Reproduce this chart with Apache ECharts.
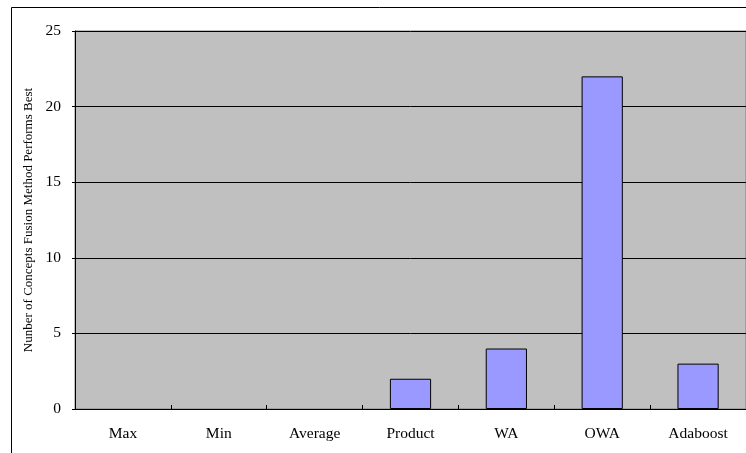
<!DOCTYPE html>
<html>
<head>
<meta charset="utf-8">
<script src="https://cdn.jsdelivr.net/npm/echarts@6/dist/echarts.min.js"></script>
<style>
  html, body { margin: 0; padding: 0; background: #fff; }
  #chart { width: 746px; height: 453px; }
</style>
</head>
<body>
<div id="chart"></div>
<script>
  const methods = ['Max', 'Min', 'Average', 'Product', 'WA', 'OWA', 'Adaboost']
  const bestCounts = [0, 0, 0, 2, 4, 22, 3]
  const yTicks = [0, 5, 10, 15, 20, 25]

  const chart = echarts.init(document.getElementById('chart'), null, { renderer: 'canvas' })
  const font = '"Liberation Serif", "Times New Roman", serif'

  // zero-height bars are not drawn in the original, so drop their outline
  const barData = bestCounts.map(v => ({
    value: v,
    itemStyle: v === 0 ? { borderWidth: 0 } : undefined
  }))

  chart.setOption({
    animation: false,
    textStyle: { fontFamily: font },
    graphic: [{
      type: 'rect',
      shape: { x: 11.5, y: 7.5, width: 760, height: 460 },
      style: { fill: 'none', stroke: '#000', lineWidth: 1 },
      silent: true
    }],
    grid: {
      left: 75,
      top: 31,
      right: -3,
      bottom: 44,
      show: true,
      backgroundColor: '#c0c0c0',
      borderColor: '#808080',
      borderWidth: 1
    },
    xAxis: {
      type: 'category',
      data: methods,
      axisLine: { lineStyle: { color: '#000', width: 1 } },
      axisTick: { show: true, inside: true, length: 4, lineStyle: { color: '#000' } },
      axisLabel: { color: '#000', fontSize: 15.5, fontFamily: font, margin: 17 }
    },
    yAxis: {
      type: 'value',
      min: yTicks[0],
      max: yTicks[yTicks.length - 1],
      interval: 5,
      name: 'Nunber of Concepts Fusion Method Performs Best',
      nameLocation: 'middle',
      nameGap: 35,
      nameTextStyle: { color: '#000', fontSize: 13, fontFamily: font },
      axisLine: { show: true, lineStyle: { color: '#000', width: 1 } },
      axisTick: { show: true, length: 3, lineStyle: { color: '#000' } },
      axisLabel: { color: '#000', fontSize: 15.5, fontFamily: font, margin: 14 },
      splitLine: { show: true, lineStyle: { color: '#000', width: 1 } }
    },
    series: [{
      type: 'bar',
      data: barData,
      barWidth: '43%',
      itemStyle: { color: '#9999ff', borderColor: '#000', borderWidth: 1 }
    }]
  })
</script>
</body>
</html>
